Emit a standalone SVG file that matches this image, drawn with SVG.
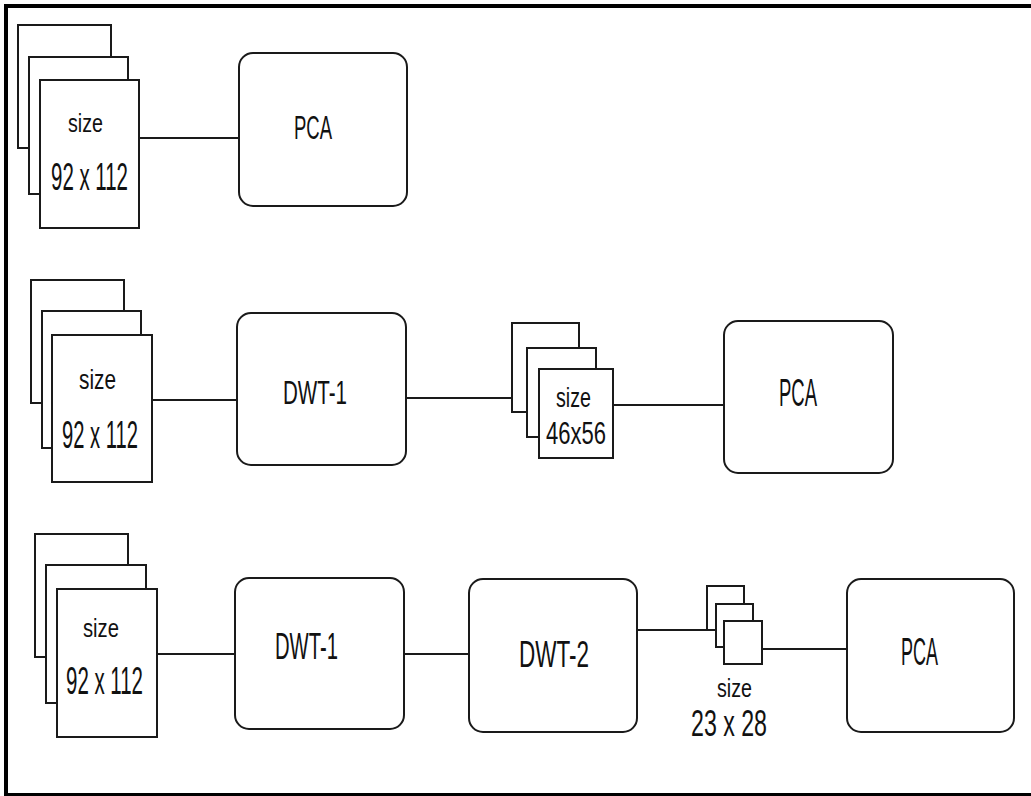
<svg xmlns="http://www.w3.org/2000/svg" width="1031" height="796" viewBox="0 0 1031 796">
<style>
.pg{fill:#fff;stroke:#1a1a1a;stroke-width:2}
.bx{fill:#fff;stroke:#1a1a1a;stroke-width:2}
.ln{stroke:#1a1a1a;stroke-width:2;fill:none}
text{font-family:"Liberation Sans",Arial,sans-serif;fill:#111}
</style>
<rect x="0" y="0" width="1031" height="796" fill="#fff"/>
<path d="M1031,6 H6 V795 H1031" fill="none" stroke="#000" stroke-width="4"/>
<g id="connectors">
<line class="ln" x1="139" y1="138" x2="239" y2="138"/>
<line class="ln" x1="152" y1="400" x2="237" y2="400"/>
<line class="ln" x1="406" y1="398" x2="512" y2="398"/>
<line class="ln" x1="613" y1="405" x2="724" y2="405"/>
<line class="ln" x1="157" y1="654" x2="235" y2="654"/>
<line class="ln" x1="404" y1="654" x2="469" y2="654"/>
<line class="ln" x1="637" y1="630" x2="708" y2="630"/>
<line class="ln" x1="762" y1="649" x2="847" y2="649"/>
</g>
<g id="images1">
<rect class="pg" x="18" y="25" width="93" height="123"/>
<rect class="pg" x="29" y="57" width="99" height="137"/>
<rect class="pg" x="40" y="80" width="99" height="148"/>
<text x="68" y="132" font-size="26" textLength="35" lengthAdjust="spacingAndGlyphs">size</text>
<text x="51" y="190" font-size="38" textLength="77" lengthAdjust="spacingAndGlyphs">92 x 112</text>
</g>
<g id="pca1">
<rect class="bx" x="239" y="53" width="168" height="153" rx="14"/>
<text x="294" y="139" font-size="34" textLength="38" lengthAdjust="spacingAndGlyphs">PCA</text>
</g>
<g id="images2">
<rect class="pg" x="31" y="280" width="93" height="123"/>
<rect class="pg" x="42" y="311" width="99" height="137"/>
<rect class="pg" x="52" y="335" width="100" height="147"/>
<text x="79" y="389" font-size="27" textLength="37" lengthAdjust="spacingAndGlyphs">size</text>
<text x="62" y="448" font-size="39" textLength="76" lengthAdjust="spacingAndGlyphs">92 x 112</text>
</g>
<g id="dwt1a">
<rect class="bx" x="237" y="313" width="169" height="152" rx="14"/>
<text x="283" y="404" font-size="33" textLength="64" lengthAdjust="spacingAndGlyphs">DWT-1</text>
</g>
<g id="images2b">
<rect class="pg" x="512" y="323" width="67" height="89"/>
<rect class="pg" x="527" y="348" width="69" height="89"/>
<rect class="pg" x="539" y="369" width="74" height="89"/>
<text x="556" y="407" font-size="27" textLength="35" lengthAdjust="spacingAndGlyphs">size</text>
<text x="546" y="444" font-size="32" textLength="60" lengthAdjust="spacingAndGlyphs">46x56</text>
</g>
<g id="pca2">
<rect class="bx" x="724" y="321" width="169" height="152" rx="14"/>
<text x="779" y="406" font-size="38" textLength="38" lengthAdjust="spacingAndGlyphs">PCA</text>
</g>
<g id="images3">
<rect class="pg" x="35" y="534" width="93" height="123"/>
<rect class="pg" x="46" y="565" width="100" height="138"/>
<rect class="pg" x="57" y="589" width="100" height="148"/>
<text x="83" y="637" font-size="25" textLength="36" lengthAdjust="spacingAndGlyphs">size</text>
<text x="66" y="694" font-size="38" textLength="77" lengthAdjust="spacingAndGlyphs">92 x 112</text>
</g>
<g id="dwt1b">
<rect class="bx" x="235" y="578" width="169" height="151" rx="14"/>
<text x="275" y="659" font-size="37" textLength="63" lengthAdjust="spacingAndGlyphs">DWT-1</text>
</g>
<g id="dwt2">
<rect class="bx" x="469" y="579" width="168" height="153" rx="14"/>
<text x="519" y="667" font-size="37" textLength="70" lengthAdjust="spacingAndGlyphs">DWT-2</text>
</g>
<g id="images3b">
<rect class="pg" x="707" y="586" width="37" height="44"/>
<rect class="pg" x="716" y="604" width="37" height="43"/>
<rect class="pg" x="724" y="621" width="38" height="43"/>
<text x="717" y="697" font-size="26" textLength="35" lengthAdjust="spacingAndGlyphs">size</text>
<text x="691" y="736" font-size="37" textLength="76" lengthAdjust="spacingAndGlyphs">23 x 28</text>
</g>
<g id="pca3">
<rect class="bx" x="847" y="579" width="167" height="153" rx="14"/>
<text x="901" y="665" font-size="38" textLength="37" lengthAdjust="spacingAndGlyphs">PCA</text>
</g>
</svg>
